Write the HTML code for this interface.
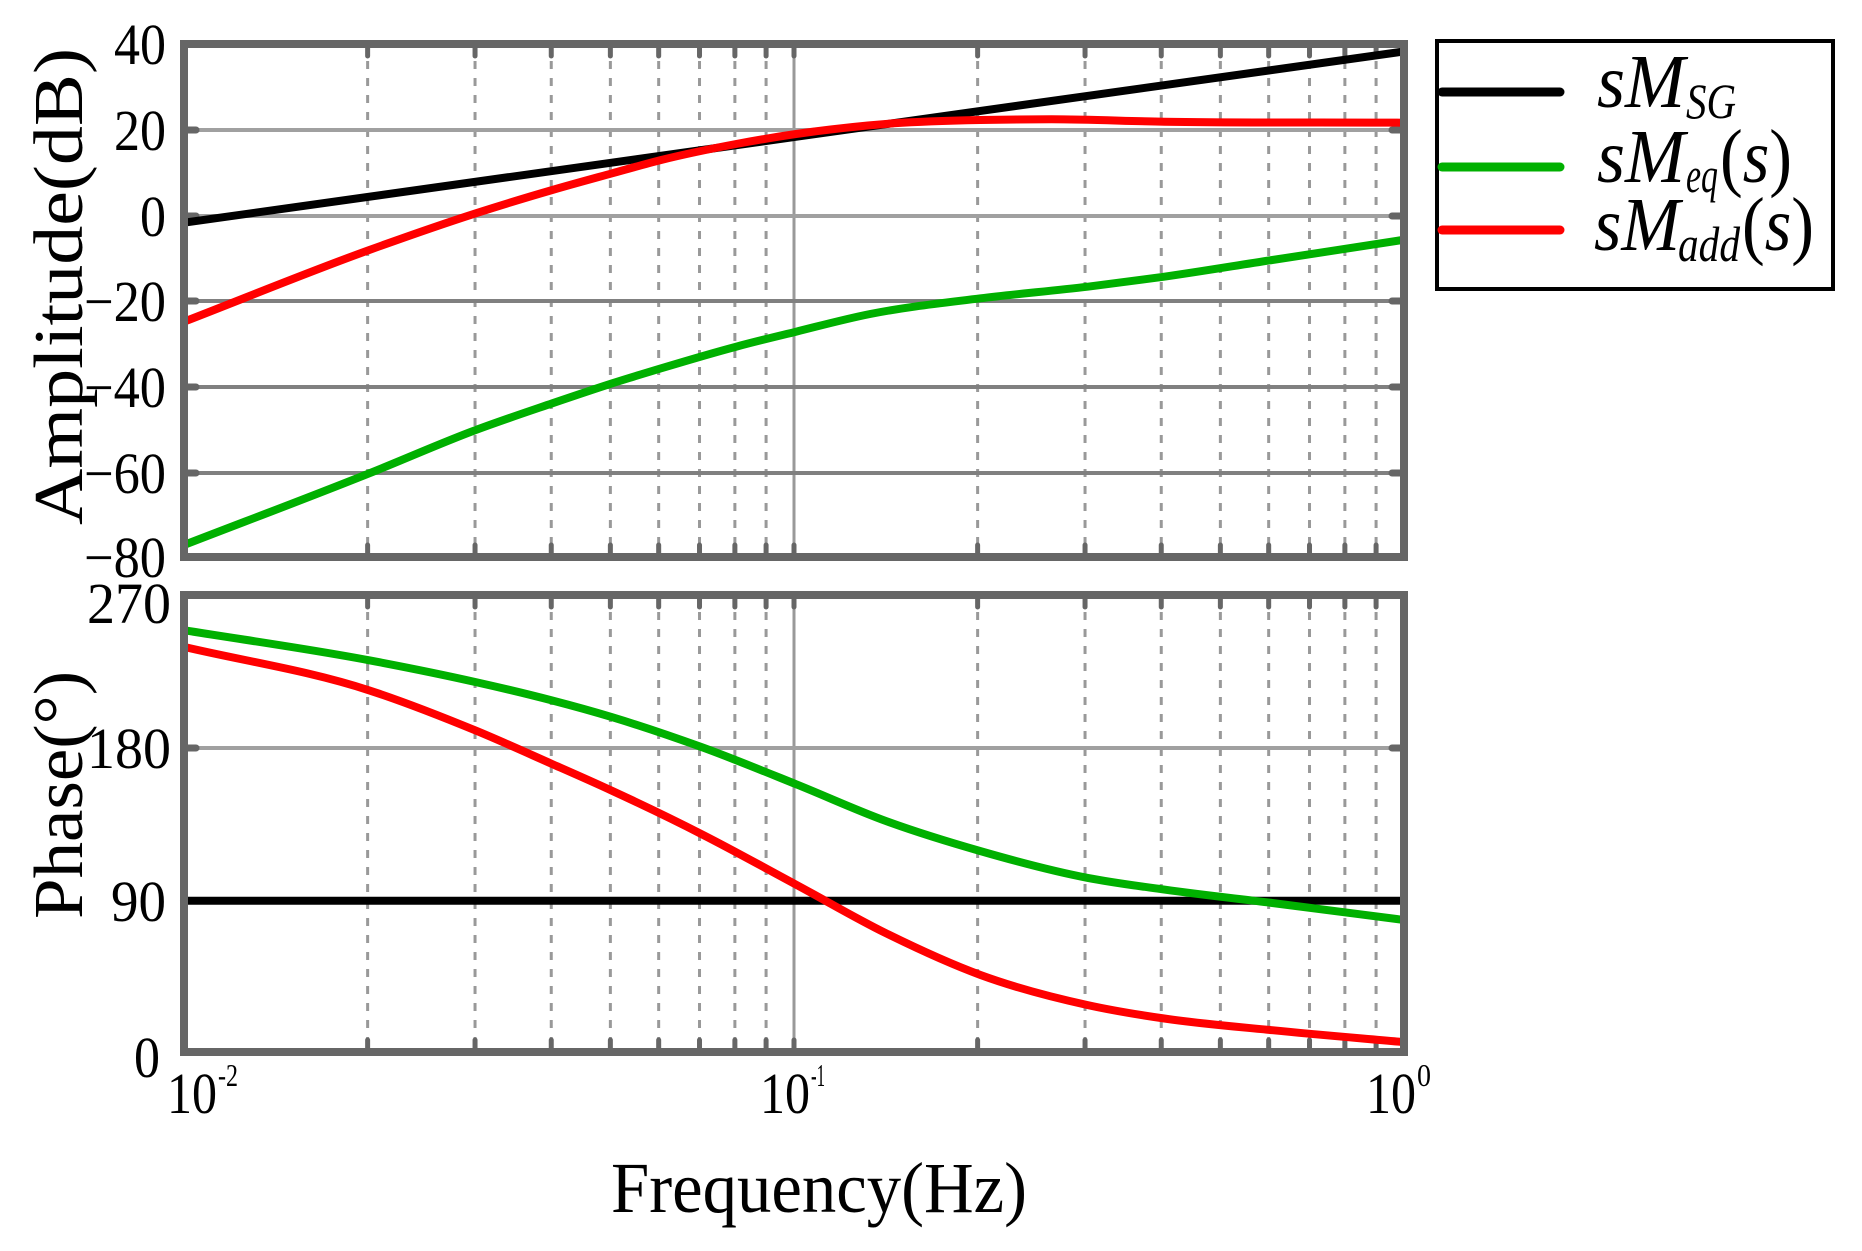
<!DOCTYPE html>
<html><head><meta charset="utf-8"><style>
html,body{margin:0;padding:0;background:#fff;}
svg{display:block;}
text{font-family:"Liberation Serif",serif;fill:#000;}
</style></head><body>
<svg id="s" width="1862" height="1251" viewBox="0 0 1862 1251" xmlns="http://www.w3.org/2000/svg">
<g id="grid"></g>
<g id="curves" fill="none" stroke-width="8" stroke-linejoin="round" stroke-linecap="round"></g>
<g id="frames" fill="none" stroke="#666" stroke-width="8">
<rect x="184" y="44" width="1220" height="513"/>
<rect x="184" y="595" width="1220" height="457"/>
</g>
<g font-size="58" text-anchor="end">
<text x="166" y="64" textLength="52" lengthAdjust="spacingAndGlyphs">40</text>
<text x="166" y="150" textLength="52" lengthAdjust="spacingAndGlyphs">20</text>
<text x="166" y="236" textLength="26" lengthAdjust="spacingAndGlyphs">0</text>
<text x="166" y="321" textLength="82" lengthAdjust="spacingAndGlyphs">−20</text>
<text x="166" y="407" textLength="82" lengthAdjust="spacingAndGlyphs">−40</text>
<text x="166" y="493" textLength="82" lengthAdjust="spacingAndGlyphs">−60</text>
<text x="166" y="577" textLength="82" lengthAdjust="spacingAndGlyphs">−80</text>
<text x="171" y="623" textLength="84" lengthAdjust="spacingAndGlyphs">270</text>
<text x="171" y="768" textLength="84" lengthAdjust="spacingAndGlyphs">180</text>
<text x="166" y="921" textLength="55" lengthAdjust="spacingAndGlyphs">90</text>
<text x="160" y="1077" textLength="26" lengthAdjust="spacingAndGlyphs">0</text>
</g>
<g font-size="58">
<text x="167" y="1113" textLength="50" lengthAdjust="spacingAndGlyphs">10</text>
<text x="218" y="1086" font-size="32" textLength="20" lengthAdjust="spacingAndGlyphs">-2</text>
<text x="760" y="1113" textLength="50" lengthAdjust="spacingAndGlyphs">10</text>
<text x="811" y="1086" font-size="32" textLength="14" lengthAdjust="spacingAndGlyphs">-1</text>
<text x="1366" y="1113" textLength="50" lengthAdjust="spacingAndGlyphs">10</text>
<text x="1417" y="1086" font-size="32" textLength="14" lengthAdjust="spacingAndGlyphs">0</text>
</g>
<text x="611" y="1212" font-size="72" textLength="416" lengthAdjust="spacingAndGlyphs">Frequency(Hz)</text>
<text transform="translate(82,525) rotate(-90)" font-size="70" textLength="477" lengthAdjust="spacingAndGlyphs">Amplitude(dB)</text>
<text transform="translate(82,919) rotate(-90)" font-size="70" textLength="248" lengthAdjust="spacingAndGlyphs">Phase(°)</text>
<rect x="1437" y="41" width="396" height="248" fill="#fff" stroke="#000" stroke-width="4"/>
<g stroke-width="9" stroke-linecap="round">
<line x1="1442" y1="92" x2="1560" y2="92" stroke="#000"/>
<line x1="1442" y1="167" x2="1560" y2="167" stroke="#00b000"/>
<line x1="1442" y1="230" x2="1560" y2="230" stroke="#ff0000"/>
</g>
<g font-size="76" font-style="italic">
<text x="1597" y="107" textLength="88" lengthAdjust="spacingAndGlyphs">sM</text>
<text x="1686" y="118" font-size="50" textLength="50" lengthAdjust="spacingAndGlyphs">SG</text>
<text x="1597" y="182" textLength="88" lengthAdjust="spacingAndGlyphs">sM</text>
<text x="1686" y="192" font-size="50" textLength="32" lengthAdjust="spacingAndGlyphs">eq</text>
<text x="1720" y="182" textLength="72" lengthAdjust="spacingAndGlyphs"><tspan font-style="normal">(</tspan>s<tspan font-style="normal">)</tspan></text>
<text x="1594" y="250" textLength="86" lengthAdjust="spacingAndGlyphs">sM</text>
<text x="1678" y="261" font-size="50" textLength="62" lengthAdjust="spacingAndGlyphs">add</text>
<text x="1742" y="250" textLength="72" lengthAdjust="spacingAndGlyphs"><tspan font-style="normal">(</tspan>s<tspan font-style="normal">)</tspan></text>
</g>
</svg>
<script>
(function(){
var NS="http://www.w3.org/2000/svg";
var L=184,R=1404,D=(R-L)/2;
function el(p,t,a){var e=document.createElementNS(NS,t);for(var k in a)e.setAttribute(k,a[k]);p.appendChild(e);return e;}
var g=document.getElementById('grid');
var panels=[[44,557,[130,216,301,387,473]],[595,1052,[748,901]]];
panels.forEach(function(p){
  var t=p[0],b=p[1];
  for(var d=0;d<2;d++){for(var k=2;k<=9;k++){var x=L+D*(d+Math.log10(k));
    el(g,'line',{x1:x,y1:t,x2:x,y2:b,stroke:'#999','stroke-width':3,'stroke-dasharray':'8 9'});
    el(g,'line',{x1:x,y1:t+4,x2:x,y2:t+12,stroke:'#666','stroke-width':5,'stroke-linecap':'round'});
    el(g,'line',{x1:x,y1:b-4,x2:x,y2:b-12,stroke:'#666','stroke-width':5,'stroke-linecap':'round'});
  }}
  el(g,'line',{x1:L+D,y1:t,x2:L+D,y2:b,stroke:'#999','stroke-width':3});
  el(g,'line',{x1:L+D,y1:t+4,x2:L+D,y2:t+12,stroke:'#666','stroke-width':5,'stroke-linecap':'round'});
  el(g,'line',{x1:L+D,y1:b-4,x2:L+D,y2:b-12,stroke:'#666','stroke-width':5,'stroke-linecap':'round'});
  p[2].forEach(function(y){
    el(g,'line',{x1:L,y1:y,x2:R,y2:y,stroke:(y>290&&y<560)?'#808080':'#a0a0a0','stroke-width':4});
    el(g,'line',{x1:L+4,y1:y,x2:L+12,y2:y,stroke:'#666','stroke-width':7,'stroke-linecap':'round'});
    el(g,'line',{x1:R-4,y1:y,x2:R-12,y2:y,stroke:'#666','stroke-width':7,'stroke-linecap':'round'});
  });
});
// monotone-ish cubic Hermite (non-uniform finite differences)
function path(pts,oy,syd){
  var P=pts.map(function(q){return [184+q[0]/1.268, oy+q[1]/syd];});
  var n=P.length,m=[],dl=[];
  for(var i=0;i<n-1;i++)dl.push((P[i+1][1]-P[i][1])/(P[i+1][0]-P[i][0]));
  for(i=0;i<n;i++){
    if(i==0)m.push(dl[0]);else if(i==n-1)m.push(dl[n-2]);
    else{var h0=P[i][0]-P[i-1][0],h1=P[i+1][0]-P[i][0];m.push((dl[i-1]*h1+dl[i]*h0)/(h0+h1));}
  }
  var s='M'+P[0][0].toFixed(1)+' '+P[0][1].toFixed(1);
  for(i=0;i<n-1;i++){
    var h=P[i+1][0]-P[i][0];
    s+=' C'+(P[i][0]+h/3).toFixed(1)+' '+(P[i][1]+m[i]*h/3).toFixed(1)+' '+(P[i+1][0]-h/3).toFixed(1)+' '+(P[i+1][1]-m[i+1]*h/3).toFixed(1)+' '+P[i+1][0].toFixed(1)+' '+P[i+1][1].toFixed(1);
  }
  return s;
}
var c=document.getElementById('curves');
var gm=[[0,1515],[235,1300],[370,1170],[467,1090],[543,1030],[605,985],[700,920],[776,875],[870,822],[1010,775],[1146,740],[1243,710],[1380,660],[1545,600]];
var rm=[[0,845],[235,630],[370,520],[467,450],[543,400],[605,360],[700,312],[776,282],[900,250],[1010,240],[1100,238],[1243,245],[1545,248]];
var bm=[[0,548],[1545,35]];
var gp=[[0,120],[235,210],[370,275],[467,330],[543,380],[657,470],[776,580],[890,690],[1010,780],[1146,860],[1243,895],[1380,935],[1545,985]];
var rp=[[0,170],[235,300],[370,420],[467,520],[543,600],[657,730],[776,880],[890,1025],[1010,1150],[1146,1240],[1243,1280],[1380,1315],[1545,1350]];
var bp=[[0,928],[1545,928]];
el(c,'path',{d:path(bm,40,3),stroke:'#000'});
el(c,'path',{d:path(gm,40,3),stroke:'#00b000'});
el(c,'path',{d:path(rm,40,3),stroke:'#ff0000'});
el(c,'path',{d:path(bp,590,2.987),stroke:'#000'});
el(c,'path',{d:path(gp,590,2.987),stroke:'#00b000'});
el(c,'path',{d:path(rp,590,2.987),stroke:'#ff0000'});
})();
</script>
</body></html>
